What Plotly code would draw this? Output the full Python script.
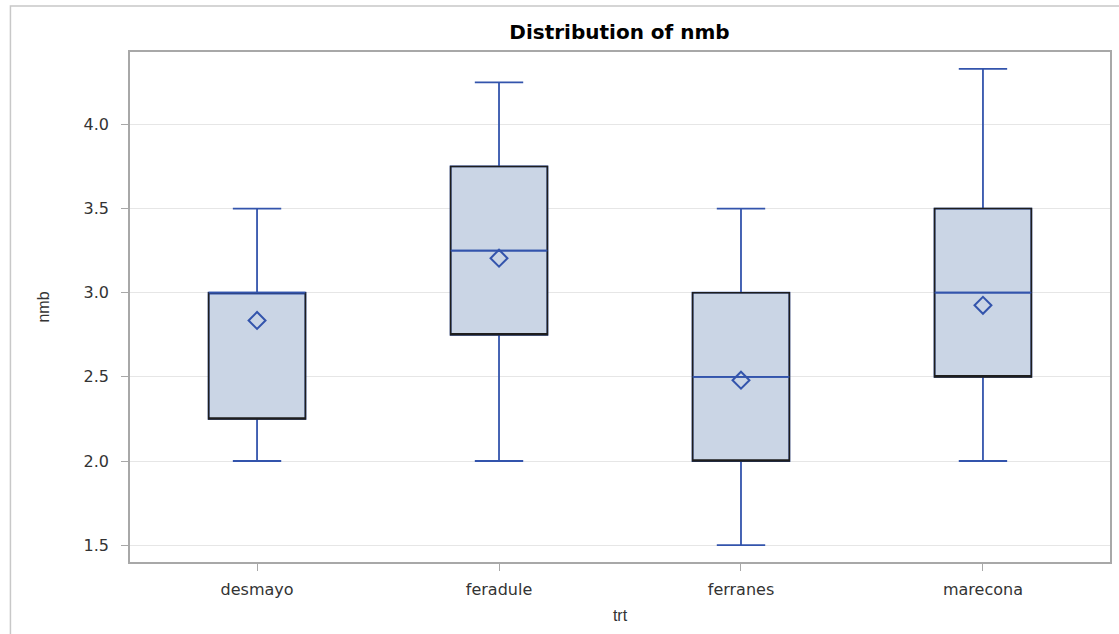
import plotly.graph_objects as go

categories = ["desmayo", "feradule", "ferranes", "marecona"]
mins = [2.0, 2.0, 1.5, 2.0]
q1s = [2.25, 2.75, 2.0, 2.5]
medians = [3.0, 3.25, 2.5, 3.0]
q3s = [3.0, 3.75, 3.0, 3.5]
maxs = [3.5, 4.25, 3.5, 4.33]
means = [2.835, 3.205, 2.48, 2.925]
y_ticks = [1.5, 2.0, 2.5, 3.0, 3.5, 4.0]

BLUE = "#3354AC"
FILL = "#CAD5E5"
DARK = "#1E1E1E"
FONT = "DejaVu Sans, Liberation Sans, Arial, sans-serif"

fig = go.Figure()
# filled box with blue whiskers
fig.add_trace(go.Box(
    x=categories, q1=q1s, median=medians, q3=q3s,
    lowerfence=mins, upperfence=maxs,
    fillcolor=FILL, line=dict(color=BLUE, width=1.8),
    width=0.4, whiskerwidth=0.5, showlegend=False, hoverinfo="skip",
))
# dark outline of the box (q1..q3), no whiskers
fig.add_trace(go.Box(
    x=categories, q1=q1s, median=q1s, q3=q3s,
    lowerfence=q1s, upperfence=q3s,
    fillcolor="rgba(0,0,0,0)", line=dict(color=DARK, width=1.6),
    width=0.4, whiskerwidth=0, showlegend=False, hoverinfo="skip",
))
# blue median line on top
fig.add_trace(go.Box(
    x=categories, q1=medians, median=medians, q3=medians,
    lowerfence=medians, upperfence=medians,
    fillcolor="rgba(0,0,0,0)", line=dict(color=BLUE, width=1.8),
    width=0.4, whiskerwidth=0, showlegend=False, hoverinfo="skip",
))
# means
fig.add_trace(go.Scatter(
    x=categories, y=means, mode="markers",
    marker=dict(symbol="diamond-open", size=13, color=BLUE, line=dict(width=2, color=BLUE)),
    showlegend=False, hoverinfo="skip",
))

fig.update_layout(
    width=1119, height=634,
    margin=dict(l=130, r=7, t=52, b=72),
    paper_bgcolor="white", plot_bgcolor="white",
    boxmode="overlay",
    font=dict(family=FONT, size=15, color="#333333"),
    title=dict(text="<b>Distribution of nmb</b>", x=0.5536, xanchor="center",
               y=0.949, yanchor="middle",
               font=dict(size=20, color="black", family=FONT)),
    xaxis=dict(
        type="category", range=[-0.525, 3.525],
        showline=True, mirror=True, linecolor="#A8A8A8", linewidth=1.5,
        ticks="outside", ticklen=7, tickcolor="#A8A8A8",
        showgrid=False, ticklabelstandoff=5,
        title=dict(text="trt", standoff=12,
                   font=dict(size=16, color="#333333", family="Liberation Sans Narrow, Liberation Sans, Arial")),
        tickfont=dict(size=16, color="#333333", family=FONT),
    ),
    yaxis=dict(
        range=[1.4, 4.43], tickvals=y_ticks,
        ticktext=[f"{v:.1f}" for v in y_ticks],
        showline=True, mirror=True, linecolor="#A8A8A8", linewidth=1.5,
        ticks="outside", ticklen=7, tickcolor="#A8A8A8",
        showgrid=True, gridcolor="#E6E6E6", gridwidth=1,
        zeroline=False, ticklabelstandoff=9,
        title=dict(text="nmb", standoff=30,
                   font=dict(size=16, color="#333333", family="Liberation Sans Narrow, Liberation Sans, Arial")),
        tickfont=dict(size=16, color="#333333", family=FONT),
    ),
    shapes=[dict(type="rect", xref="paper", yref="paper",
                 x0=-0.122, x1=1.05, y0=-0.2, y1=1.09,
                 line=dict(color="#C8C8C8", width=1.5), fillcolor="rgba(0,0,0,0)",
                 layer="below")],
)

fig.write_html("out.html", config={"displayModeBar": False},
               post_script="document.body.style.margin='0';document.body.style.overflow='hidden';")
